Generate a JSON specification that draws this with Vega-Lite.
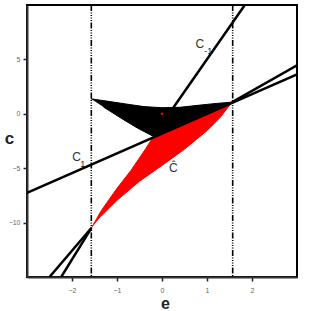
{
  "$schema": "https://vega.github.io/schema/vega-lite/v6.json",
  "width": 270,
  "height": 272,
  "autosize": "none",
  "padding": {"left": 27, "top": 5, "right": 15, "bottom": 34},
  "background": "white",
  "config": {
    "view": {"stroke": "black", "strokeWidth": 2},
    "font": "Liberation Sans"
  },
  "datasets": {
    "shapes": [
      {"s": "black", "o": 1, "e": -1.58, "c": 1.38},
      {"s": "black", "o": 2, "e": -1.2, "c": 1.15},
      {"s": "black", "o": 3, "e": -0.8, "c": 0.9},
      {"s": "black", "o": 4, "e": -0.4, "c": 0.66},
      {"s": "black", "o": 5, "e": 0.0, "c": 0.56},
      {"s": "black", "o": 6, "e": 0.4, "c": 0.6},
      {"s": "black", "o": 7, "e": 0.8, "c": 0.78},
      {"s": "black", "o": 8, "e": 1.2, "c": 0.95},
      {"s": "black", "o": 9, "e": 1.55, "c": 1.07},
      {"s": "black", "o": 10, "e": -0.18, "c": -2.1},
      {"s": "black", "o": 11, "e": -0.55, "c": -1.3},
      {"s": "black", "o": 12, "e": -0.91, "c": -0.4},
      {"s": "black", "o": 13, "e": -1.3, "c": 0.62},
      {"s": "red", "o": 1, "e": -1.57, "c": -10.5},
      {"s": "red", "o": 2, "e": -1.35, "c": -8.9},
      {"s": "red", "o": 3, "e": -1.0, "c": -6.85},
      {"s": "red", "o": 4, "e": -0.69, "c": -5.2},
      {"s": "red", "o": 5, "e": -0.36, "c": -3.2},
      {"s": "red", "o": 6, "e": -0.2, "c": -2.15},
      {"s": "red", "o": 7, "e": 1.55, "c": 1.05},
      {"s": "red", "o": 8, "e": 1.3, "c": -0.3},
      {"s": "red", "o": 9, "e": 1.0, "c": -1.55},
      {"s": "red", "o": 10, "e": 0.5, "c": -3.25},
      {"s": "red", "o": 11, "e": 0.0, "c": -4.75},
      {"s": "red", "o": 12, "e": -0.5, "c": -6.2},
      {"s": "red", "o": 13, "e": -1.0, "c": -7.95},
      {"s": "red", "o": 14, "e": -1.35, "c": -9.4}
    ],
    "lines": [
      {"s": "C1", "o": 1, "e": -3.0, "c": -7.27},
      {"s": "C1", "o": 2, "e": 3.0, "c": 3.62},
      {"s": "Cm1", "o": 1, "e": 0.25, "c": 0.55},
      {"s": "Cm1", "o": 2, "e": 1.84, "c": 10.0},
      {"s": "R", "o": 1, "e": 1.55, "c": 1.05},
      {"s": "R", "o": 2, "e": 3.0, "c": 4.45},
      {"s": "L1", "o": 1, "e": -1.57, "c": -10.5},
      {"s": "L1", "o": 2, "e": -2.5, "c": -15},
      {"s": "L2", "o": 1, "e": -1.57, "c": -10.5},
      {"s": "L2", "o": 2, "e": -2.24, "c": -15}
    ],
    "vlines": [{"e": -1.5708}, {"e": 1.5708}],
    "labels": [
      {"t": "C", "e": 0.84, "c": 6.45, "k": "big"},
      {"t": "-1", "e": 1.03, "c": 5.75, "k": "small"},
      {"t": "C", "e": -1.9, "c": -4.0, "k": "big"},
      {"t": "1", "e": -1.76, "c": -4.65, "k": "small"},
      {"t": "Ĉ", "e": 0.25, "c": -4.95, "k": "big"}
    ],
    "dot": [{"e": 0, "c": 0}]
  },
  "layer": [
    {
      "data": {"name": "shapes"},
      "transform": [{"filter": "datum.s === 'black'"}],
      "mark": {"type": "line", "fill": "black", "stroke": "black", "strokeWidth": 1, "clip": true},
      "encoding": {
        "x": {"field": "e", "type": "quantitative", "scale": {"domain": [-3, 3], "nice": false, "zero": false},
          "axis": {"values": [-2, -1, 0, 1, 2], "grid": false, "domainColor": "#333", "domainWidth": 2, "tickColor": "#222", "tickWidth": 1.5, "tickSize": 4, "labelFontSize": 7, "labelColor": "#666", "labelPadding": 5,
            "title": "e", "titleFontSize": 16, "titleFontWeight": "bold", "titleColor": "#222", "titleX": 138, "titleY": 26, "titleBaseline": "middle", "titleAlign": "center"}},
        "y": {"field": "c", "type": "quantitative", "scale": {"domain": [-15, 10], "nice": false, "zero": false},
          "axis": {"values": [-10, -5, 0, 5], "grid": false, "domainColor": "#333", "domainWidth": 2, "tickColor": "#222", "tickWidth": 1.5, "tickSize": 4, "labelFontSize": 7, "labelColor": "#666", "labelPadding": 3,
            "title": "c", "titleFontSize": 17, "titleFontWeight": "bold", "titleColor": "#222", "titleAngle": 0, "titleX": -18, "titleY": 133, "titleBaseline": "middle", "titleAlign": "center"}},
        "order": {"field": "o", "type": "quantitative"}
      }
    },
    {
      "data": {"name": "shapes"},
      "transform": [{"filter": "datum.s === 'red'"}],
      "mark": {"type": "line", "fill": "#ff0000", "stroke": "#ff0000", "strokeWidth": 1, "clip": true},
      "encoding": {
        "x": {"field": "e", "type": "quantitative"},
        "y": {"field": "c", "type": "quantitative"},
        "order": {"field": "o", "type": "quantitative"}
      }
    },
    {
      "data": {"name": "lines"},
      "mark": {"type": "line", "color": "black", "strokeWidth": 2.5, "clip": true},
      "encoding": {
        "x": {"field": "e", "type": "quantitative"},
        "y": {"field": "c", "type": "quantitative"},
        "detail": {"field": "s"},
        "order": {"field": "o", "type": "quantitative"}
      }
    },
    {
      "data": {"name": "vlines"},
      "mark": {"type": "rule", "color": "black", "strokeWidth": 1.6, "strokeDash": [6, 1.5, 1, 1.5, 1, 1.5, 1, 1.5, 1, 1.5]},
      "encoding": {
        "x": {"field": "e", "type": "quantitative"}
      }
    },
    {
      "data": {"name": "dot"},
      "mark": {"type": "square", "color": "#ff0000", "size": 5, "opacity": 1, "filled": true},
      "encoding": {
        "x": {"field": "e", "type": "quantitative"},
        "y": {"field": "c", "type": "quantitative"}
      }
    },
    {
      "data": {"name": "labels"},
      "transform": [{"filter": "datum.k === 'big'"}],
      "mark": {"type": "text", "fontSize": 12, "color": "#333", "baseline": "middle", "align": "center"},
      "encoding": {
        "x": {"field": "e", "type": "quantitative"},
        "y": {"field": "c", "type": "quantitative"},
        "text": {"field": "t"}
      }
    },
    {
      "data": {"name": "labels"},
      "transform": [{"filter": "datum.k === 'small'"}],
      "mark": {"type": "text", "fontSize": 9, "color": "#222", "baseline": "middle", "align": "center"},
      "encoding": {
        "x": {"field": "e", "type": "quantitative"},
        "y": {"field": "c", "type": "quantitative"},
        "text": {"field": "t"}
      }
    }
  ]
}
